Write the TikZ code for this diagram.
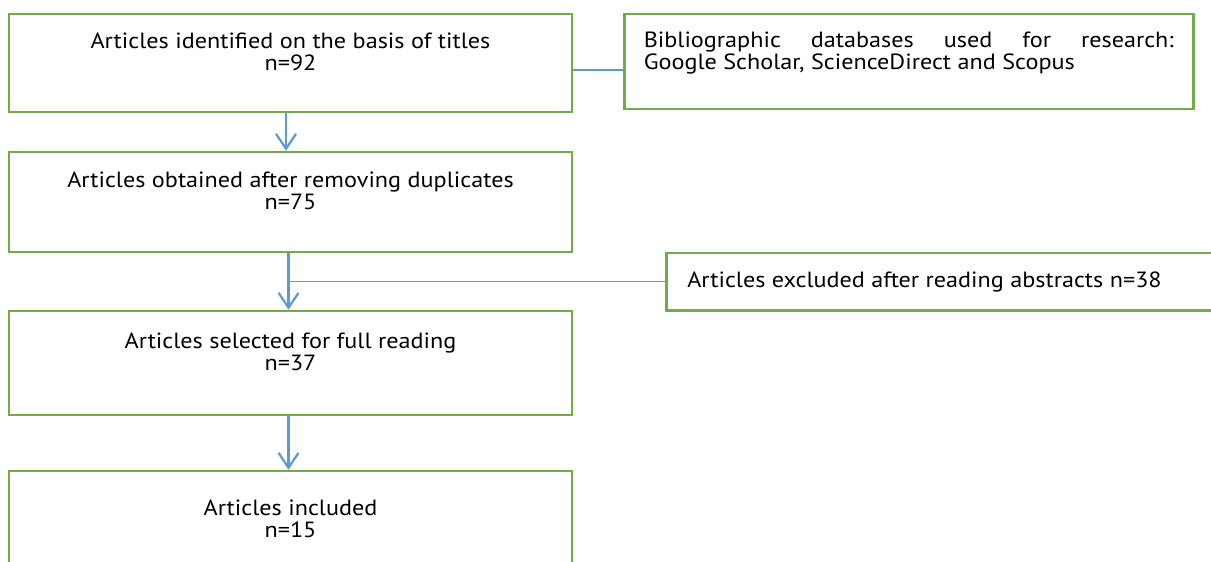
\documentclass[tikz,border=0pt]{standalone}
\usepackage{fontspec}
\setmainfont{PT Sans}[FakeStretch=1.1]
\usepackage{xcolor}
\usetikzlibrary{arrows.meta,calc}
\definecolor{boxgreen}{HTML}{70AD47}
\definecolor{linkblue}{HTML}{5B9BD5}
\tikzset{stage/.style={draw=boxgreen,line width=2.5pt,minimum width=563pt,align=center},
 side/.style={draw=boxgreen,line width=2.5pt,align=justify,anchor=west},
 flow/.style={->,linkblue,line width=2.2pt},
 link/.style={linkblue,line width=1.4pt}}

\begin{document}
\begin{tikzpicture}[x=1pt,y=-1pt,>={Straight Barb[length=15pt,width=20pt]},font=\fontsize{22}{22}\selectfont]
 \useasboundingbox (0,0) rectangle (1211,562); \clip (0,0) rectangle (1211,562);
 \node[stage,minimum height=98pt] (ident) at (290.5,63) {Articles identified on the basis of titles\\n=92\\ \mbox{}};
 \node[stage,minimum height=100pt] (dedup) at (290.5,202) {Articles obtained after removing duplicates\\n=75\\ \mbox{}};
 \node[stage,minimum height=104pt] (full) at (290.5,363) {Articles selected for full reading\\n=37\\ \mbox{}};
 \node[stage,minimum height=118pt] (incl) at (290.5,530) {Articles included\\n=15\\ \mbox{}};
 \node[side,text width=530pt,inner xsep=19.5pt,minimum height=95pt] (dbs) at (623,61.5) {Bibliographic databases used for research:\linebreak Google Scholar, ScienceDirect and Scopus\\ \mbox{}};
 \node[side,text width=518pt,inner xsep=21pt,minimum height=57.5pt] (excl) at (665,281.5) {Articles excluded after reading abstracts n=38};
 \draw[flow] ([xshift=-4.5pt]ident.south) -- ([xshift=-4.5pt]dedup.north);
 \draw[flow] ([xshift=-2pt]dedup.south) -- ([xshift=-2pt]full.north);
 \draw[flow] ([xshift=-2pt]full.south) -- ([xshift=-2pt]incl.north);
 \coordinate (split) at ([xshift=-2pt]dedup.south |- excl.west);
 \draw[link] (split) -- (excl.west);
 \draw[link] ([yshift=-7pt]ident.east) -- ([yshift=-7pt]ident.east -| dbs.west);
\end{tikzpicture}
\end{document}
